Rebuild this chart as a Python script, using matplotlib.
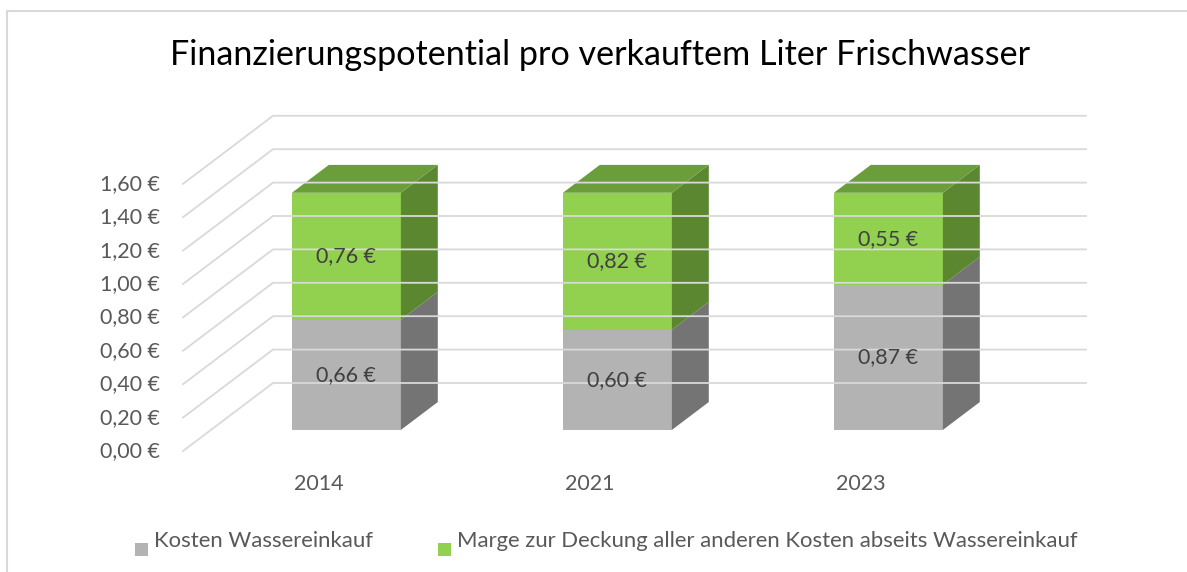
import matplotlib.pyplot as plt
from matplotlib.patches import Polygon, Rectangle
from matplotlib.lines import Line2D

plt.rcParams['font.family'] = ['Lato', 'DejaVu Sans']

# Daten
jahre = ['2014', '2021', '2023']
kosten = [0.66, 0.60, 0.87]
marge = [0.76, 0.82, 0.55]
y_ticks = [0.0, 0.2, 0.4, 0.6, 0.8, 1.0, 1.2, 1.4, 1.6]
serien = ['Kosten Wassereinkauf',
          'Marge zur Deckung aller anderen Kosten abseits Wassereinkauf']

# Farben: (Front, Seite, Deckel)
grau = ('#b3b3b3', '#747474', '#8c8c8c')
gruen = ('#92d050', '#5b8731', '#6b9e3b')
grid_c = '#d9d9d9'
text_c = '#595959'

# 3D-Schraegprojektion (Tiefe 0..1 -> Versatz in Datenkoordinaten)
DX = 90 / 271
DY = 68 / 167
Z0, Z1 = 0.31, 0.72      # Vorder-/Rueckseite der Saeulen
BW = 109 / 271           # Saeulenbreite


def p(x, y, z):
    return (x + z * DX, y + z * DY)


fig = plt.figure(figsize=(11.87, 5.72), dpi=100)
ax = fig.add_axes([0, 0, 1, 1])
ax.set_xlim(-1.1753, 3.2048)
ax.set_ylim(-0.7246, 2.7006)
ax.axis('off')

# Gitter: Seitenwand + Rueckwand
n = len(jahre)
for v in y_ticks:
    x0, y0 = p(-0.5, v, 0)
    x1, y1 = p(-0.5, v, 1)
    x2, y2 = p(n - 0.5, v, 1)
    ax.plot([x0, x1, x2], [y0, y1, y2], color=grid_c, lw=1.3,
            solid_joinstyle='miter')
    ax.text(-0.5 - 23 / 271, v, f'{v:.2f} €'.replace('.', ','),
            ha='right', va='center', fontsize=15.5, color=text_c)


def saeule(i, unten, oben, farben, deckel):
    l, r = i - BW / 2, i + BW / 2
    front = [p(l, unten, Z0), p(r, unten, Z0), p(r, oben, Z0), p(l, oben, Z0)]
    seite = [p(r, unten, Z0), p(r, unten, Z1), p(r, oben, Z1), p(r, oben, Z0)]
    ax.add_patch(Polygon(front, closed=True, fc=farben[0], ec='none'))
    ax.add_patch(Polygon(seite, closed=True, fc=farben[1], ec='none'))
    if deckel:
        top = [p(l, oben, Z0), p(r, oben, Z0), p(r, oben, Z1), p(l, oben, Z1)]
        ax.add_patch(Polygon(top, closed=True, fc=farben[2], ec='none'))
    cx, cy = p(i, (unten + oben) / 2, Z0)
    ax.text(cx, cy, f'{oben - unten:.2f} €'.replace('.', ','),
            ha='center', va='center', fontsize=15.5, color='#404040')


for i in range(n):
    saeule(i, 0, kosten[i], grau, False)
    saeule(i, kosten[i], kosten[i] + marge[i], gruen, True)
    ax.text(i, -33 / 167, jahre[i], ha='center', va='center',
            fontsize=15.5, color=text_c)

# Titel
fig.text(600 / 1187, 1 - 55 / 572,
         'Finanzierungspotential pro verkauftem Liter Frischwasser',
         ha='center', va='center', fontsize=24.6, color='black')

# Legende
for x_px, farbe, label in [(135, grau[0], serien[0]), (438, gruen[0], serien[1])]:
    fig.patches.append(Rectangle((x_px / 1187, 1 - 556 / 572), 13 / 1187, 13 / 572,
                                 transform=fig.transFigure, fc=farbe, ec='none'))
    fig.text((x_px + 19) / 1187, 1 - 541 / 572, label, ha='left', va='center',
             fontsize=15.9, color=text_c)

# Rahmen
fig.lines.append(Line2D([6.5 / 1187, 6.5 / 1187, 1], [0, 1 - 10.5 / 572, 1 - 10.5 / 572],
                        transform=fig.transFigure, color=grid_c, lw=1.5))

fig.savefig('out.png', dpi=100, facecolor='white')
